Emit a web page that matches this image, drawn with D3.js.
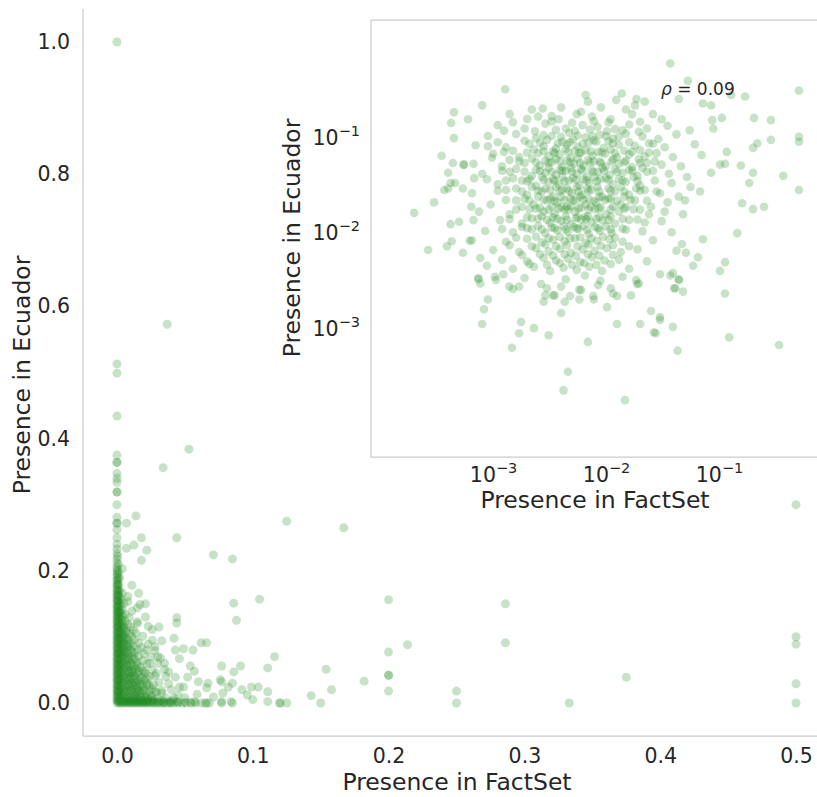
<!DOCTYPE html>
<html lang="en">
<head>
<meta charset="UTF-8">
<title>Presence in FactSet vs Ecuador</title>
<script src="https://d3js.org/d3.v7.min.js"></script>
<style>
    body {margin: 0; background: #fff;}
    text {font-family: "DejaVu Sans", sans-serif; fill: #262626;}
</style>
</head>
<body>
<script>
    const width = 817;
    const height = 797;

    // tick values
    const mainXTicks = [0, 0.1, 0.2, 0.3, 0.4, 0.5];
    const mainYTicks = [0, 0.2, 0.4, 0.6, 0.8, 1.0];
    const insetTicks = [1e-3, 1e-2, 1e-1];
    const insetExps = ["\u22123", "\u22122", "\u22121"];
    const rhoLabel = "0.09";

    // main panel: [presence in FactSet, presence in Ecuador]
    const mainPoints = [
        // items with FactSet presence of zero
        [0,0],[0,.004],[0,.008],[0,.012],[0,.016],[0,.02],[0,.024],[0,.028],[0,.032],[0,.036],[0,.04],[0,.044],
        [0,.048],[0,.052],[0,.056],[0,.06],[0,.064],[0,.068],[0,.072],[0,.076],[0,.08],[0,.084],[0,.088],[0,.092],
        [0,.096],[0,.1],[0,.104],[0,.108],[0,.112],[0,.116],[0,.12],[0,.124],[0,.128],[0,.132],[0,.136],[0,.14],
        [0,.144],[0,.148],[0,.152],[0,.156],[0,.16],[0,.164],[0,.168],[0,.172],[0,.176],[0,.18],[0,.185],[0,.19],
        [0,.195],[0,.2],[0,.206],[0,.212],[0,.218],[0,.226],[0,.233],[0,.24],[0,.25],[0,.262],[0,.272],[0,.272],
        [0,.281],[0,.3],[0,.319],[0,.319],[0,.334],[0,.34],[0,.347],[0,.364],[0,.364],[0,.375],[0,.434],[0,.499],
        [0,.513],[0,1.0],
        [.001,.002],[.001,.01],[.001,.018],[.001,.026],[.001,.034],[.001,.042],[.001,.05],[.001,.058],[.001,.066],
        [.001,.074],[.001,.082],[.001,.09],[.001,.098],[.001,.106],[.001,.114],[.001,.122],[.001,.13],[.001,.138],
        [.001,.146],[.001,.154],[.001,.162],[.001,.17],[.001,.178],[.001,.188],[.001,.198],[.001,.21],
        [.0005,.003],[.0005,.011],[.0005,.019],[.0005,.027],[.0005,.035],[.0005,.043],[.0005,.051],[.0005,.059],
        [.0005,.067],[.0005,.075],[.0005,.083],[.0005,.091],[.0005,.099],[.0005,.107],[.0005,.115],[.0005,.123],
        [.0005,.131],[.0005,.139],[.0005,.147],[.0005,.155],[.0005,.163],[.0005,.171],[.0005,.179],[.0005,.186],
        [.0005,.194],[.0005,.202],[.0005,.222],
        // items with Ecuador presence of zero or close to it
        [.002,0],[.004,0],[.006,0],[.008,0],[.01,0],[.012,0],[.014,0],[.016,0],[.018,0],[.02,0],[.022,0],[.024,0],
        [.026,0],[.028,0],[.03,0],[.032,0],[.034,0],[.036,0],[.038,0],[.04,0],[.042,0],[.045,0],[.048,0],[.051,0],
        [.055,0],[.058,0],[.062,0],[.066,0],
        [.003,.002],[.005,.002],[.007,.002],[.009,.002],[.011,.002],[.013,.002],[.015,.002],[.017,.002],[.019,.002],
        [.021,.002],[.023,.002],[.025,.002],[.028,.002],[.031,.002],[.035,.002],[.039,.002],[.044,.002],[.057,.002],
        [.077,.002],[.084,.002],
        [.0015,.001],[.0045,.001],[.0075,.001],[.0105,.001],[.0135,.001],[.0165,.001],[.0195,.001],[.0225,.001],
        [.0265,.001],[.0305,.001],[.0345,.001],[.0395,.001],[.045,.001],[.05,.001],[.054,.001],
        [.0025,.0035],[.0065,.0035],[.0095,.0035],[.0125,.0035],[.0155,.0035],[.0185,.0035],[.0215,.0035],
        [.026,.0035],[.033,.0035],[.041,.0035],
        // dense corner
        [.001,.005],[.004,.006],[.007,.005],[.01,.004],[.013,.006],[.016,.005],[.019,.004],[.023,.006],[.027,.005],
        [.0025,.0075],[.0055,.0075],[.0085,.0075],[.0115,.0075],[.0145,.0075],[.0175,.0075],[.021,.0075],[.025,.0075],
        [.03,.0075],[.036,.0075],[.042,.0075],
        [.002,.01],[.005,.011],[.008,.01],[.011,.009],[.014,.011],[.017,.01],[.021,.009],[.025,.011],
        [.001,.015],[.003,.014],[.006,.016],[.009,.015],[.012,.014],[.015,.016],[.018,.015],[.022,.014],[.029,.016],
        [.0015,.0175],[.0045,.0175],[.0075,.0175],[.0105,.0175],[.0135,.0175],[.0165,.0175],[.0195,.0175],
        [.024,.0175],[.028,.0175],
        [.002,.02],[.004,.021],[.007,.019],[.01,.02],[.013,.021],[.016,.019],[.02,.02],[.026,.021],[.033,.019],
        [.001,.025],[.003,.026],[.006,.024],[.009,.025],[.012,.026],[.015,.024],[.019,.025],[.024,.026],
        [.0025,.0275],[.0055,.0275],[.0085,.0275],[.0115,.0275],[.0145,.0275],[.018,.0275],[.022,.0275],[.027,.0275],
        [.002,.03],[.005,.031],[.008,.029],[.011,.03],[.014,.031],[.017,.029],[.022,.03],[.031,.031],[.038,.029],
        [.001,.035],[.003,.036],[.006,.034],[.009,.035],[.012,.036],[.016,.034],[.02,.035],
        [.0015,.0375],[.0045,.0375],[.0075,.0375],[.0105,.0375],[.0135,.0375],[.017,.0375],[.022,.0375],
        [.002,.04],[.004,.041],[.007,.039],[.01,.04],[.013,.041],[.018,.039],[.024,.04],[.028,.041],
        [.001,.045],[.003,.046],[.006,.044],[.009,.045],[.012,.046],[.015,.044],[.021,.045],
        [.0025,.0475],[.0055,.0475],[.0085,.0475],[.0115,.0475],[.016,.0475],[.02,.0475],
        [.002,.05],[.005,.051],[.008,.049],[.011,.05],[.014,.051],[.019,.049],[.026,.05],[.035,.051],
        [.001,.055],[.003,.056],[.006,.054],[.009,.055],[.013,.056],[.017,.054],
        [.0015,.0575],[.0045,.0575],[.0075,.0575],[.011,.0575],[.015,.0575],
        [.002,.06],[.004,.061],[.007,.059],[.01,.06],[.015,.061],[.022,.059],[.03,.06],
        [.001,.065],[.003,.066],[.006,.064],[.009,.065],[.012,.066],[.019,.064],
        [.0025,.0675],[.0055,.0675],[.0085,.0675],[.013,.0675],
        [.002,.07],[.004,.071],[.007,.069],[.011,.07],[.016,.071],[.025,.069],
        [.001,.075],[.003,.076],[.005,.074],[.008,.075],[.013,.076],[.02,.074],
        [.0015,.0775],[.0045,.0775],[.0075,.0775],[.011,.0775],
        [.002,.08],[.004,.081],[.006,.079],[.01,.08],[.015,.081],[.028,.079],
        [.001,.085],[.003,.086],[.005,.084],[.008,.085],[.012,.086],[.018,.084],
        [.0025,.0875],[.0055,.0875],[.009,.0875],
        [.002,.09],[.004,.091],[.007,.089],[.01,.09],[.016,.091],[.023,.089],
        [.001,.095],[.003,.096],[.005,.094],[.008,.095],[.013,.096],
        [.0015,.0975],[.0045,.0975],[.0075,.0975],
        [.002,.1],[.004,.101],[.006,.099],[.011,.1],[.019,.101],
        [.001,.105],[.003,.106],[.005,.104],[.009,.105],[.014,.106],
        [.0025,.1075],[.006,.1075],
        [.002,.11],[.004,.111],[.007,.109],[.012,.11],[.026,.111],
        [.001,.115],[.003,.116],[.005,.114],[.01,.115],
        [.0015,.1175],[.0045,.1175],
        [.002,.12],[.004,.121],[.008,.119],[.015,.12],
        [.001,.125],[.003,.126],[.006,.124],[.0025,.1275],
        [.002,.13],[.004,.131],[.009,.129],[.021,.13],
        [.001,.135],[.003,.136],[.006,.134],[.0015,.1375],
        [.002,.14],[.004,.141],[.011,.139],
        [.001,.145],[.003,.146],
        [.002,.15],[.005,.151],[.017,.149],
        [.001,.155],[.003,.156],
        [.002,.16],[.008,.161],
        [.001,.165],[.004,.166],
        [.002,.17],[.001,.18],[.002,.19],
        // scattered items
        [.007,.234],[.0125,.239],[.022,.231],[.018,.216],[.011,.178],[.016,.166],[.021,.15],[.008,.153],[.015,.144],
        [.004,.203],[.007,.272],[.014,.283],[.018,.25],[.044,.25],[.034,.356],[.053,.384],[.037,.573],
        [.125,.275],[.167,.265],[.071,.224],[.085,.218],[.105,.157],[.086,.151],[.088,.125],
        [.044,.129],[.044,.121],[.015,.123],[.023,.116],[.031,.115],[.042,.098],[.026,.095],[.033,.094],
        [.062,.091],[.066,.091],[.043,.08],[.049,.082],[.056,.08],[.022,.08],[.032,.068],[.046,.067],[.024,.06],
        [.077,.056],[.091,.056],[.111,.053],[.054,.056],[.057,.048],[.038,.047],[.086,.047],[.043,.039],[.052,.039],
        [.076,.035],[.06,.032],[.067,.03],[.077,.032],[.082,.024],[.085,.03],[.092,.02],[.099,.024],[.104,.024],
        [.049,.024],[.066,.023],[.046,.024],[.078,.015],[.071,.009],[.059,.013],[.096,.012],[.111,.017],
        [.065,0],[.068,0],[.077,0],[.085,0],[.1,.005],[.111,.002],[.12,0],[.12,0],[.125,0],
        [.03,.07],[.035,.06],[.028,.085],[.036,.04],[.04,.02],[.045,.012],[.05,.008],[.033,.015],[.029,.045],
        [.116,.07],[.154,.051],[.158,.02],[.143,.011],[.15,0],[.182,.033],
        [.2,.156],[.214,.088],[.2,.077],[.2,.042],[.2,.042],[.2,.018],
        [.25,.018],[.25,0],[.286,.15],[.286,.091],[.333,0],[.375,.039],
        [.5,.3],[.5,.1],[.5,.089],[.5,.029],[.5,0]
    ];

    // inset (log-log): [presence in FactSet, presence in Ecuador]
    const insetPoints = [
        // outer points
        [6.6e-3,.27],[6.9e-3,.23],[1.38e-2,.28],[1.23e-2,.24],[1.86e-2,.245],[2.2e-2,.23],[1.8e-2,.21],
        [2.75e-3,.195],[3.3e-3,.162],[2e-3,.151],[1.28e-3,.31],[4.5e-4,.178],[4.25e-4,.137],[3.7e-2,.58],
        [5.3e-2,.38],[4.4e-2,.245],[7.2e-2,.22],[8.5e-2,.21],[.128,.27],[.17,.26],[.51,.30],[.204,.155],
        [.288,.147],[.106,.155],[.089,.12],[.087,.147],[.51,.098],[.51,.087],[.288,.091],[.218,.084],[.2,.075],
        [.37,.038],[.51,.027],[.156,.049],[.185,.032],[.2,.041],[.25,.018],[.2,.017],[.16,.0196],[.145,.0095],
        [.117,.068],[.113,.051],
        [2e-4,.0155],[2.66e-4,6.3e-3],[3.9e-4,6.9e-3],[4.3e-4,7.8e-3],[4.2e-4,.0118],[5.4e-4,5.9e-3],
        [4.4e-4,.052],[4e-4,.041],[5.5e-4,.05],[6.7e-4,.051],[3.7e-4,.027],[4e-4,.028],[4.6e-4,.032],[5.4e-4,.028],
        [6.4e-4,.018],[6.2e-4,7.9e-3],[6.7e-4,.013],[6.8e-4,.036],[8.8e-4,.035],[9.8e-4,.059],[9e-4,.078],
        [7.7e-4,5.2e-3],[8.8e-4,4.3e-3],[7.4e-4,3.2e-3],
        [9e-4,1.9e-3],[8.3e-4,1.5e-3],[8e-4,1.05e-3],[1.47e-3,5.9e-4],[1.7e-3,8.4e-4],[1.77e-3,1.1e-3],
        [2.3e-3,9.5e-4],[3.1e-3,8e-4],[4.6e-3,3.3e-4],[4.2e-3,2.1e-4],[1.47e-2,1.66e-4],[6.9e-3,6.8e-4],
        [4e-3,1.37e-3],[1.02e-2,1.58e-3],[1.25e-2,1.05e-3],[2e-2,1.05e-3],[2.5e-2,1.44e-3],[3e-2,1.24e-3],
        [3e-2,1.16e-3],[2.65e-2,8.6e-4],[2.75e-2,8.4e-4],[3.9e-2,9.8e-4],[4.3e-2,5.5e-4],[.34,6.3e-4],
        [.123,7.6e-4],[.113,2.2e-3],[.102,3.8e-3],[.113,4.7e-3],[4.8e-2,2.3e-3],[4.1e-2,2.5e-3],[4.4e-2,3.1e-3],
        [4.7e-2,7.3e-3],[4.2e-2,6.2e-3],[5.1e-2,5.9e-3],[6.5e-2,5.3e-3],[5.9e-2,4.3e-3],[7.2e-2,8.2e-3],
        [7.4e-4,3.1e-3],[7.7e-4,2.8e-3],[1.04e-3,3.3e-3],[1.06e-3,3.05e-3],[1.23e-3,3.5e-3],[1.39e-3,2.6e-3],
        [1.5e-3,2.45e-3],[1.7e-3,2.6e-3],[2.66e-3,2.77e-3],[3e-3,2.5e-3],[2.9e-3,2.1e-3],[2.8e-3,1.8e-3],
        [3.4e-3,2.1e-3],[4.3e-3,1.8e-3],[4.8e-3,2.07e-3],[5.8e-3,1.9e-3],[5.8e-3,2.4e-3],[7.7e-3,2.07e-3],
        [1.25e-2,2.07e-3],[1.66e-2,2.1e-3],[1.88e-2,2.77e-3],[1.95e-2,2.8e-3],[1.85e-2,3.05e-3],[3e-2,3.5e-3],
        [3.7e-2,3.4e-3],[3.9e-2,3.6e-3],[4.4e-2,3.05e-3],[4e-2,2.5e-3],
        // main cloud
        [8e-4,.21],[2.2e-3,.19],[4e-3,.2],[6e-3,.18],[9e-3,.2],[1.5e-2,.19],[2.6e-2,.17],
        [6e-4,.15],[1.4e-3,.17],[2.5e-3,.16],[3.8e-3,.15],[5.5e-3,.17],[7.5e-3,.16],[1.1e-2,.15],[1.7e-2,.17],[3.1e-2,.15],
        [1.5e-3,.14],[3.3e-3,.142],[5e-3,.138],[7.8e-3,.143],[1.05e-2,.139],[2e-2,.141],
        [1.1e-3,.13],[1.9e-3,.12],[2.9e-3,.135],[4.4e-3,.12],[6.2e-3,.13],[8.4e-3,.125],[1.2e-2,.118],[1.6e-2,.132],
        [2.3e-2,.12],[3.5e-2,.128],[5.5e-2,.115],
        [1.25e-3,.114],[2.35e-3,.112],[3.6e-3,.116],[5.3e-3,.113],[7.2e-3,.117],[1.02e-2,.112],[1.4e-2,.115],[1.95e-2,.111],
        [4.5e-4,.095],[9e-4,.1],[1.6e-3,.105],[2.4e-3,.095],[3.3e-3,.1],[4.7e-3,.108],[6.6e-3,.097],[8.8e-3,.103],
        [1.15e-2,.094],[1.5e-2,.106],[2.1e-2,.099],[2.9e-2,.093],[4.2e-2,.104],
        [2.8e-3,.102],[4e-3,.098],[5.6e-3,.101],[7.6e-3,.099],[1e-2,.1],[1.3e-2,.098],
        [1.9e-3,.089],[3e-3,.091],[4.1e-3,.087],[5.1e-3,.092],[7.8e-3,.09],[1.05e-2,.088],
        [1.1e-3,.086],[2.6e-3,.085],[3.75e-3,.084],[4.8e-3,.086],[6.2e-3,.083],[8.2e-3,.087],[1.15e-2,.084],
        [1.6e-2,.086],[2.6e-2,.083],
        [7e-4,.08],[1.3e-3,.076],[2.1e-3,.083],[2.8e-3,.078],[3.6e-3,.074],[4.5e-3,.082],[5.6e-3,.077],[7e-3,.085],
        [9.5e-3,.075],[1.3e-2,.081],[1.8e-2,.079],[2.4e-2,.084],[3.3e-2,.076],[6.1e-2,.082],
        [1.5e-3,.07],[2.3e-3,.072],[3.4e-3,.069],[4.4e-3,.073],[5.3e-3,.07],[6.6e-3,.071],[8.5e-3,.068],[1.1e-2,.072],
        [1.45e-2,.07],[2e-2,.071],
        [1.25e-3,.068],[2e-3,.067],[2.8e-3,.069],[3.5e-3,.066],[4.6e-3,.068],[5.8e-3,.066],[7.3e-3,.069],[9.2e-3,.067],
        [1.2e-2,.066],[1.7e-2,.068],[2.4e-2,.067],
        [3.5e-4,.062],[1e-3,.065],[1.7e-3,.06],[2.5e-3,.066],[3.1e-3,.061],[3.9e-3,.064],[4.9e-3,.059],[6e-3,.067],
        [7.6e-3,.062],[9.8e-3,.065],[1.25e-2,.06],[1.6e-2,.064],[2.2e-2,.061],[2.8e-2,.066],[3.9e-2,.06],[7e-2,.063],
        [1.4e-3,.056],[2.2e-3,.058],[2.9e-3,.055],[3.6e-3,.057],[4.5e-3,.055],[5.6e-3,.058],[6.9e-3,.056],[8.8e-3,.054],
        [1.15e-2,.057],[1.5e-2,.055],[1.95e-2,.057],
        [1.7e-3,.054],[2.4e-3,.053],[3.1e-3,.052],[3.9e-3,.054],[4.8e-3,.053],[5.9e-3,.052],[7.2e-3,.053],[9e-3,.052],
        [1.12e-2,.054],[1.45e-2,.053],[2e-2,.052],[2.7e-2,.054],
        [5.5e-4,.05],[1.2e-3,.048],[1.9e-3,.052],[2.6e-3,.049],[3.3e-3,.053],[4.1e-3,.047],[5.2e-3,.051],[6.3e-3,.049],
        [7.8e-3,.054],[1e-2,.048],[1.3e-2,.051],[1.7e-2,.047],[2.3e-2,.052],[3.1e-2,.05],[4.6e-2,.048],[.102,.05],
        [1.6e-3,.045],[2.4e-3,.044],[3.1e-3,.046],[3.9e-3,.044],[4.9e-3,.046],[6e-3,.045],[7.4e-3,.044],[9.3e-3,.046],
        [1.2e-2,.045],[1.6e-2,.044],[2.1e-2,.046],
        [1.2e-3,.043],[1.9e-3,.042],[2.6e-3,.043],[3.3e-3,.042],[4.1e-3,.043],[5e-3,.042],[6.2e-3,.043],[7.7e-3,.042],
        [9.6e-3,.043],[1.25e-2,.042],[1.7e-2,.043],[2.3e-2,.042],
        [8e-4,.04],[1.4e-3,.042],[2.2e-3,.038],[2.9e-3,.041],[3.6e-3,.039],[4.4e-3,.043],[5.5e-3,.04],[6.8e-3,.037],
        [8.5e-3,.042],[1.08e-2,.039],[1.4e-2,.041],[1.9e-2,.038],[2.6e-2,.043],[3.6e-2,.04],[5.2e-2,.037],[8.5e-2,.041],
        [1.5e-3,.036],[2.1e-3,.035],[2.7e-3,.037],[3.4e-3,.035],[4.1e-3,.037],[5.1e-3,.036],[6.3e-3,.035],[7.9e-3,.037],
        [1e-2,.036],[1.3e-2,.035],[1.75e-2,.037],
        [1.3e-3,.034],[2e-3,.0335],[2.8e-3,.0345],[3.5e-3,.034],[4.3e-3,.0335],[5.4e-3,.0345],[6.7e-3,.034],
        [8.3e-3,.0335],[1.05e-2,.0345],[1.4e-2,.034],[1.9e-2,.0335],
        [4.2e-4,.032],[1.1e-3,.031],[1.8e-3,.034],[2.4e-3,.03],[3.1e-3,.033],[3.8e-3,.031],[4.7e-3,.034],[5.8e-3,.03],
        [7.1e-3,.032],[8.9e-3,.035],[1.15e-2,.031],[1.5e-2,.033],[2e-2,.03],[2.7e-2,.034],[3.8e-2,.032],[5.6e-2,.029],
        [1.6e-3,.028],[2.2e-3,.029],[2.9e-3,.028],[3.6e-3,.029],[4.5e-3,.028],[5.5e-3,.029],[6.8e-3,.028],[8.4e-3,.029],
        [1.05e-2,.028],[1.35e-2,.029],[1.85e-2,.028],
        [1.1e-3,.0265],[1.8e-3,.026],[2.5e-3,.0265],[3.2e-3,.027],[3.9e-3,.026],[4.7e-3,.0265],[5.7e-3,.026],
        [7e-3,.0265],[8.7e-3,.026],[1.1e-2,.0265],[1.45e-2,.026],[2e-2,.0265],[2.8e-2,.026],
        [6.5e-4,.025],[1.3e-3,.027],[2e-3,.024],[2.7e-3,.026],[3.4e-3,.023],[4.1e-3,.027],[5e-3,.025],[6.1e-3,.024],
        [7.4e-3,.027],[9.2e-3,.023],[1.2e-2,.026],[1.6e-2,.024],[2.2e-2,.027],[3e-2,.025],[4.4e-2,.023],[6.8e-2,.026],
        [1.9e-3,.022],[2.5e-3,.023],[3.2e-3,.022],[4e-3,.023],[4.8e-3,.022],[5.9e-3,.023],[7e-3,.022],[8.7e-3,.023],
        [1.1e-2,.022],[1.45e-2,.023],
        [1.3e-3,.0212],[2.1e-3,.0208],[2.8e-3,.0213],[3.5e-3,.0207],[4.3e-3,.0212],[5.1e-3,.0208],[6.3e-3,.0213],
        [7.8e-3,.0207],[9.8e-3,.0212],[1.25e-2,.0208],[1.65e-2,.0212],[2.3e-2,.0208],
        [3e-4,.02],[9.5e-4,.019],[1.6e-3,.021],[2.3e-3,.019],[3e-3,.021],[3.7e-3,.02],[4.5e-3,.018],[5.4e-3,.021],
        [6.6e-3,.019],[8.2e-3,.02],[1.05e-2,.022],[1.35e-2,.019],[1.8e-2,.021],[2.5e-2,.018],[3.5e-2,.02],[5e-2,.021],
        [1.8e-3,.018],[2.6e-3,.0175],[3.3e-3,.018],[4e-3,.0178],[4.9e-3,.0182],[6e-3,.0176],[7.3e-3,.018],[9e-3,.0177],
        [1.15e-2,.0181],[1.5e-2,.0178],
        [1.6e-3,.0168],[2.4e-3,.0172],[3.1e-3,.0168],[3.8e-3,.0172],[4.6e-3,.0168],[5.7e-3,.0172],[7e-3,.0168],
        [8.6e-3,.0172],[1.1e-2,.0168],[1.45e-2,.0172],[2e-2,.0168],
        [7.5e-4,.016],[1.4e-3,.015],[2.1e-3,.017],[2.8e-3,.016],[3.5e-3,.015],[4.3e-3,.017],[5.3e-3,.016],[6.5e-3,.014],
        [8e-3,.017],[1e-2,.015],[1.3e-2,.016],[1.75e-2,.017],[2.4e-2,.015],[3.3e-2,.016],[4.8e-2,.015],
        [2e-3,.014],[2.7e-3,.0143],[3.4e-3,.0139],[4.4e-3,.0142],[5.6e-3,.014],[6.9e-3,.0143],[8.7e-3,.014],[1.1e-2,.0142],
        [1.4e-3,.0133],[2.2e-3,.0136],[3e-3,.0131],[3.7e-3,.0134],[4.5e-3,.0131],[5.4e-3,.0136],[6.7e-3,.0133],
        [8.2e-3,.0135],[1.05e-2,.0131],[1.4e-2,.0134],[1.9e-2,.0132],
        [5e-4,.0125],[1.15e-3,.013],[1.8e-3,.012],[2.5e-3,.0135],[3.2e-3,.0122],[4e-3,.0128],[4.9e-3,.0118],
        [6e-3,.0132],[7.4e-3,.0124],[9.3e-3,.0129],[1.2e-2,.012],[1.6e-2,.0131],[2.2e-2,.0123],[3.1e-2,.0127],
        [1.8e-3,.011],[2.5e-3,.0113],[3.3e-3,.0109],[4.2e-3,.0112],[5.2e-3,.011],[6.3e-3,.0113],[8e-3,.011],[1e-2,.0112],
        [1.2e-3,.0105],[2e-3,.0107],[2.7e-3,.0104],[3.5e-3,.0107],[4.4e-3,.0104],[5.5e-3,.0106],[6.8e-3,.0103],
        [8.5e-3,.0107],[1.1e-2,.0104],[1.4e-2,.0106],
        [8.5e-4,.01],[1.5e-3,.0097],[2.2e-3,.0104],[2.9e-3,.0095],[3.7e-3,.0102],[4.6e-3,.0098],[5.7e-3,.0106],
        [7e-3,.0093],[8.8e-3,.0101],[1.12e-2,.0096],[1.5e-2,.0103],[2.1e-2,.0099],[3.8e-2,.0097],
        [1.6e-3,.0085],[2.4e-3,.0087],[3.1e-3,.0084],[3.9e-3,.0087],[4.8e-3,.0084],[5.9e-3,.0086],[7.4e-3,.0084],
        [9.4e-3,.0087],[1.2e-2,.0085],
        [6.5e-4,.008],[1.3e-3,.0077],[2e-3,.0083],[2.7e-3,.0076],[3.4e-3,.0081],[4.3e-3,.0078],[5.3e-3,.0084],
        [6.6e-3,.0075],[8.3e-3,.0079],[1.07e-2,.0082],[1.4e-2,.0077],[2.6e-2,.008],
        [1.4e-3,.0071],[2.2e-3,.0069],[2.9e-3,.0072],[3.6e-3,.0069],[4.5e-3,.0071],[5.6e-3,.0069],[7e-3,.0072],
        [9e-3,.007],[1.15e-2,.0071],[1.6e-2,.0069],
        [1e-3,.0063],[1.7e-3,.006],[2.4e-3,.0066],[3.1e-3,.0061],[3.9e-3,.0065],[4.9e-3,.0059],[6.2e-3,.0064],
        [7.9e-3,.0062],[1.02e-2,.0066],[1.35e-2,.006],[1.9e-2,.0064],
        [1.8e-3,.0056],[2.6e-3,.0057],[3.4e-3,.0055],[4.3e-3,.0057],[5.4e-3,.0055],[6.9e-3,.0057],[8.7e-3,.0055],
        [1.15e-2,.0056],
        [1.2e-3,.005],[2e-3,.0048],[2.8e-3,.0052],[3.6e-3,.0049],[4.6e-3,.0051],[5.9e-3,.0047],[7.5e-3,.0053],
        [9.7e-3,.0049],[1.3e-2,.005],[2.3e-2,.0048],
        [2.1e-3,.0045],[3e-3,.0044],[3.9e-3,.0046],[5e-3,.0044],[6.4e-3,.0046],[8.2e-3,.0044],[1.1e-2,.0045],
        [1.5e-3,.004],[2.3e-3,.0042],[3.2e-3,.0038],[4.2e-3,.0041],[5.5e-3,.0039],[7.1e-3,.0042],[9.2e-3,.0038],[1.6e-2,.004],
        [1.9e-3,.0032],[4.4e-3,.0031],[6.5e-3,.0034],[8.9e-3,.003],[1.4e-2,.0033],
        [4e-3,.0026],[6e-3,.0024],[8.5e-3,.0027],[1.1e-2,.0025],
        [3.5e-3,.0021],[7.8e-3,.0019],[1.15e-2,.0022]
    ];

    const green = "#228b22";
    const alpha = 0.25;
    const spine = "#cccccc";

    const svg = d3.select("body").append("svg")
            .attr("width", width).attr("height", height);

    svg.append("rect").attr("width", width).attr("height", height).attr("fill", "#fff");

    // ---------- main panel ----------
    const x = d3.scaleLinear().domain([-0.025, 0.525]).range([83, 830]);
    const y = d3.scaleLinear().domain([-0.05, 1.05]).range([736, 9]);

    svg.append("g").selectAll("circle")
            .data(mainPoints)
            .join("circle")
            .attr("cx", d => x(d[0]))
            .attr("cy", d => y(d[1]))
            .attr("r", 4.5)
            .attr("fill", green)
            .attr("fill-opacity", alpha);

    const xAxis = svg.append("g")
            .attr("transform", "translate(0,736)")
            .call(d3.axisBottom(x).tickValues(mainXTicks).tickSize(0).tickPadding(12)
                    .tickFormat(d3.format(".1f")));
    const yAxis = svg.append("g")
            .attr("transform", "translate(83,0)")
            .call(d3.axisLeft(y).tickValues(mainYTicks).tickSize(0).tickPadding(13)
                    .tickFormat(d3.format(".1f")));

    [xAxis, yAxis].forEach(g => {
        g.select(".domain").remove();
        g.selectAll("text").style("font-size", "20.5px").attr("fill", "#262626")
                .style("font-family", '"DejaVu Sans", sans-serif');
    });

    svg.append("line").attr("x1", 83).attr("x2", 83).attr("y1", 9).attr("y2", 736)
            .attr("stroke", spine).attr("stroke-width", 1.25);
    svg.append("line").attr("x1", 83).attr("x2", 830).attr("y1", 736).attr("y2", 736)
            .attr("stroke", spine).attr("stroke-width", 1.25);

    svg.append("text")
            .attr("x", 457).attr("y", 790)
            .attr("text-anchor", "middle")
            .style("font-size", "23.5px")
            .text("Presence in FactSet");
    svg.append("text")
            .attr("transform", "translate(30,375) rotate(-90)")
            .attr("text-anchor", "middle")
            .style("font-size", "23.5px")
            .text("Presence in Ecuador");

    // ---------- inset ----------
    const ix = d3.scaleLog().domain([8.3e-5, 1]).range([371, 832]);
    const iy = d3.scaleLog().domain([4.18e-5, 1.663]).range([457, 20]);

    svg.append("rect").attr("x", 371).attr("y", 20).attr("width", 461).attr("height", 437)
            .attr("fill", "#fff");

    svg.append("g").selectAll("circle")
            .data(insetPoints)
            .join("circle")
            .attr("cx", d => ix(d[0]))
            .attr("cy", d => iy(d[1]))
            .attr("r", 4.3)
            .attr("fill", green)
            .attr("fill-opacity", alpha);

    svg.append("path")
            .attr("d", "M832,20H371V457H832")
            .attr("fill", "none")
            .attr("stroke", spine).attr("stroke-width", 1.25);

    const ixAxis = svg.append("g")
            .attr("transform", "translate(0,457)")
            .call(d3.axisBottom(ix).tickValues(insetTicks).tickSize(0).tickFormat(""));
    const iyAxis = svg.append("g")
            .attr("transform", "translate(371,0)")
            .call(d3.axisLeft(iy).tickValues(insetTicks).tickSize(0).tickFormat(""));

    ixAxis.select(".domain").remove();
    iyAxis.select(".domain").remove();

    function powerLabel(sel, i) {
        sel.text(null);
        sel.append("tspan").text("10");
        sel.append("tspan").attr("dy", -9).style("font-size", "14.5px").text(insetExps[i]);
    }

    ixAxis.selectAll(".tick text")
            .attr("y", 25).attr("dy", 0)
            .attr("text-anchor", "middle")
            .style("font-size", "20.5px")
            .style("font-family", '"DejaVu Sans", sans-serif')
            .attr("fill", "#262626")
            .each(function(d, i) { powerLabel(d3.select(this), i); });

    iyAxis.selectAll(".tick text")
            .attr("x", -11).attr("y", 9).attr("dy", 0)
            .attr("text-anchor", "end")
            .style("font-size", "20.5px")
            .style("font-family", '"DejaVu Sans", sans-serif')
            .attr("fill", "#262626")
            .each(function(d, i) { powerLabel(d3.select(this), i); });

    svg.append("text")
            .attr("x", 595).attr("y", 508)
            .attr("text-anchor", "middle")
            .style("font-size", "23.5px")
            .text("Presence in FactSet");
    svg.append("text")
            .attr("transform", "translate(300,238) rotate(-90)")
            .attr("text-anchor", "middle")
            .style("font-size", "23.5px")
            .text("Presence in Ecuador");

    const rho = svg.append("text")
            .attr("x", 661).attr("y", 95)
            .style("font-size", "17px");
    rho.append("tspan").style("font-style", "italic").text("\u03c1");
    rho.append("tspan").text(" = " + rhoLabel);
</script>
</body>
</html>
